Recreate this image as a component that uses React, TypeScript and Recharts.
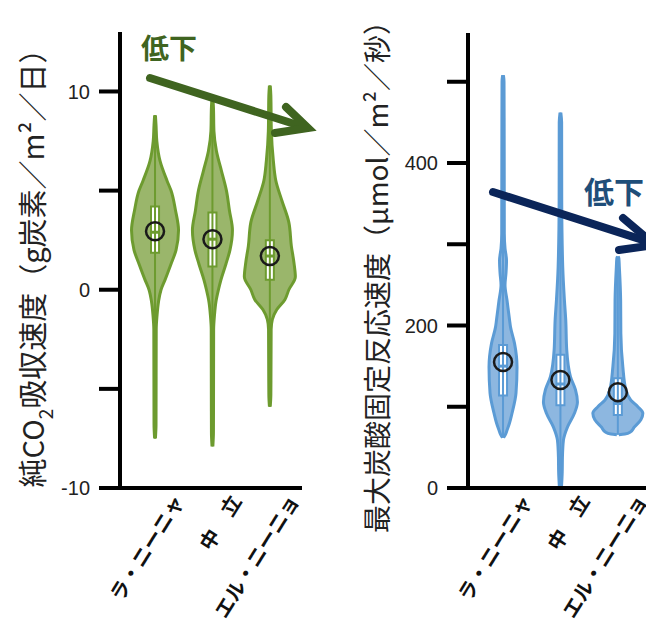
import { Area, ComposedChart, ReferenceArea, ReferenceLine, Scatter, XAxis, YAxis } from 'recharts'

const CATEGORIES = ['ラ・ニーニャ', '中　立', 'エル・ニーニョ']

// 純CO2吸収速度: violin outline as [value, half width (px)]
const co2LaNina = [
  [-7.5, 0.4], [-6.8, 1], [-2, 1.2], [-1.3, 2], [-0.6, 3.5], [0, 6], [0.5, 10], [1.3, 16], [2, 21],
  [3, 23.5], [4, 20.5], [5, 16], [5.5, 12], [6.5, 5], [7.5, 1.8], [8.3, 1], [8.8, 0.4],
]
const co2Neutral = [
  [-7.9, 0.4], [-7.2, 1], [-2, 1.2], [-1.3, 2], [-0.6, 3.5], [0, 6], [0.5, 8.5], [1.3, 13.5], [2, 17.5],
  [3, 20], [4, 17], [5, 14], [6, 9], [7, 4], [8, 1.5], [9.2, 1], [9.7, 0.4],
]
const co2ElNino = [
  [-5.9, 0.4], [-5.3, 1], [-2, 1.3], [-1.5, 2.5], [-1, 7], [-0.5, 15], [0, 19], [0.65, 25.5], [1.4, 24],
  [2.2, 21.5], [3.4, 19], [4.5, 12], [5.5, 6], [6.5, 3.5], [8, 1.5], [9.8, 1], [10.3, 0.4],
]
const co2Mean = [2.95, 2.55, 1.7]
const co2Median = [2.9, 2.55, 1.7]
const co2Q1 = [1.86, 1.17, 0.5]
const co2Q3 = [4.2, 3.9, 2.5]
const co2Ticks = [-10, -5, 0, 5, 10]

// 最大炭酸固定反応速度
const vcLaNina = [
  [62, 0.5], [66, 2.5], [71, 4], [80, 6.5], [92, 9], [117, 13], [149, 14], [178, 11.5], [198, 7.5],
  [207, 6.5], [231, 4], [250, 2], [265, 3], [280, 3.5], [295, 2], [313, 1.3], [400, 1.2], [500, 1], [508, 0.4],
]
const vcNeutral = [
  [0, 1], [20, 1.8], [38, 2], [59, 3], [75, 7], [92, 14], [106, 17], [121, 15], [137, 10], [170, 6.3],
  [207, 5.3], [231, 4], [272, 2.3], [354, 1.3], [450, 1.2], [462, 0.4],
]
const vcElNino = [
  [65.5, 1], [66.5, 7], [69, 12.5], [75, 16.5], [84, 23], [92, 25], [100, 20], [108, 13], [121, 8],
  [149, 5], [190, 3], [231, 2.8], [272, 1.5], [283, 1], [285, 0.3],
]
const vcMean = [155, 133, 118]
const vcMedian = [150, 128, 104]
const vcQ1 = [114, 102, 90]
const vcQ3 = [176, 164, 135]
const vcTicks = [0, 100, 200, 300, 400, 500]

const X_DOMAIN = [-0.61, 2.56]
const PX_PER_CAT = 57.4
const BOX_HALF = 0.07

function violinRows(violins: number[][][]) {
  const levels = [...new Set(violins.flatMap((pts) => pts.map((p) => p[0])))].sort((a, b) => a - b)
  return levels.map((v) => {
    const row: Record<string, unknown> = { v }
    violins.forEach((pts, i) => {
      const hit = pts.find((p) => p[0] === v)
      row['k' + i] = hit ? [i - hit[1] / PX_PER_CAT, i + hit[1] / PX_PER_CAT] : [null, null]
    })
    return row
  })
}

function CategoryTick({ x, y, payload }: any) {
  const ax = x + 30
  const ay = y + 13
  return (
    <text
      x={ax}
      y={ay}
      transform={`rotate(-58, ${ax}, ${ay})`}
      textAnchor="end"
      fontSize={20}
      fontWeight="bold"
      fontFamily="'Noto Sans CJK JP', sans-serif"
      fill="#111"
    >
      {CATEGORIES[payload.value]}
    </text>
  )
}

function ViolinPanel({ yWidth, top, violins, mean, median, q1, q3, domain, ticks, labelStep, fill, stroke }: any) {
  const rows = violinRows(violins)
  const means = mean.map((m: number, i: number) => ({ x: i, v: m }))
  return (
    <ComposedChart
      layout="vertical"
      width={330}
      height={625}
      data={rows}
      margin={{ top, right: 330 - yWidth - 182, bottom: 0, left: 0 }}
    >
      <XAxis
        type="number"
        dataKey="x"
        domain={X_DOMAIN}
        allowDataOverflow
        ticks={[0, 1, 2]}
        interval={0}
        height={137}
        tickSize={0}
        tickMargin={0}
        tickLine={false}
        axisLine={{ stroke: '#000', strokeWidth: 4 }}
        tick={<CategoryTick />}
      />
      <YAxis
        type="number"
        dataKey="v"
        reversed
        domain={domain}
        allowDataOverflow
        ticks={ticks}
        interval={0}
        width={yWidth}
        tickSize={21}
        tickMargin={9}
        axisLine={{ stroke: '#000', strokeWidth: 4 }}
        tickLine={{ stroke: '#000', strokeWidth: 4 }}
        tick={{ fill: '#222', fontSize: 20, fontFamily: "'Liberation Sans', Arial, sans-serif" }}
        tickFormatter={(t: number) => (t % labelStep === 0 ? String(t) : '')}
      />
      {violins.map((_: unknown, i: number) => (
        <Area
          key={'a' + i}
          dataKey={'k' + i}
          type="monotone"
          connectNulls
          fill={fill}
          fillOpacity={1}
          stroke={stroke}
          strokeWidth={3}
          dot={false}
          activeDot={false}
          isAnimationActive={false}
        />
      ))}
      {violins.map((pts: number[][], i: number) => (
        <ReferenceLine
          key={'c' + i}
          segment={[{ x: i, y: pts[0][0] }, { x: i, y: pts[pts.length - 1][0] }]}
          stroke={stroke}
          strokeWidth={2}
        />
      ))}
      {q1.map((lo: number, i: number) => (
        <ReferenceArea
          key={'b' + i}
          x1={i - BOX_HALF}
          x2={i + BOX_HALF}
          y1={lo}
          y2={q3[i]}
          fill="#fff"
          fillOpacity={1}
          stroke={stroke}
          strokeWidth={2}
        />
      ))}
      {median.map((m: number, i: number) => (
        <ReferenceLine
          key={'m' + i}
          segment={[{ x: i - BOX_HALF, y: m }, { x: i + BOX_HALF, y: m }]}
          stroke={stroke}
          strokeWidth={3}
        />
      ))}
      <Scatter
        data={means}
        dataKey="v"
        isAnimationActive={false}
        shape={(p: any) => <circle cx={p.cx} cy={p.cy} r={9} fill="none" stroke="#1a1a1a" strokeWidth={2.5} />}
      />
    </ComposedChart>
  )
}

export default function App() {
  const cjk = "'Noto Sans CJK JP', sans-serif"
  return (
    <div style={{ position: 'absolute', left: 0, top: 0, width: 646, height: 625, overflow: 'hidden', background: '#fff' }}>
      <div style={{ position: 'absolute', left: 0, top: 0 }}>
        <ViolinPanel
          yWidth={120}
          top={32}
          violins={[co2LaNina, co2Neutral, co2ElNino]}
          mean={co2Mean}
          median={co2Median}
          q1={co2Q1}
          q3={co2Q3}
          domain={[-10, 13]}
          ticks={co2Ticks}
          labelStep={10}
          fill="#9ab66b"
          stroke="#6d9b2f"
        />
      </div>
      <div style={{ position: 'absolute', left: 330, top: 0 }}>
        <ViolinPanel
          yWidth={138}
          top={33}
          violins={[vcLaNina, vcNeutral, vcElNino]}
          mean={vcMean}
          median={vcMedian}
          q1={vcQ1}
          q3={vcQ3}
          domain={[0, 560]}
          ticks={vcTicks}
          labelStep={200}
          fill="#8db7e0"
          stroke="#5b9bd5"
        />
      </div>
      <svg width={646} height={625} style={{ position: 'absolute', left: 0, top: 0, pointerEvents: 'none' }}>
        <text x={31} y={261} transform="rotate(-90, 31, 261)" textAnchor="middle" dominantBaseline="central" fontSize={29} fontFamily={cjk} fill="#222">
          <tspan>純CO</tspan>
          <tspan fontSize={19} baselineShift="sub">2</tspan>
          <tspan>吸収速度（g炭素／m²／日）</tspan>
        </text>
        <text x={376} y={270} transform="rotate(-90, 376, 270)" textAnchor="middle" dominantBaseline="central" fontSize={28} fontFamily={cjk} fill="#222">
          最大炭酸固定反応速度（μmol／m²／秒）
        </text>
        <text x={141} y={59} fontSize={28} fontWeight="bold" fontFamily={cjk} fill="#3f6420">低下</text>
        <g stroke="#3f6420" strokeWidth={8} fill="none" strokeLinecap="round" strokeLinejoin="miter">
          <line x1={150} y1={78} x2={304} y2={127} />
          <polyline points="286,107 308,128 275,133" />
        </g>
        <text x={584} y={203} fontSize={30} fontWeight="bold" fontFamily={cjk} fill="#1f4e79">低下</text>
        <g stroke="#0b2559" strokeWidth={8} fill="none" strokeLinecap="round" strokeLinejoin="miter">
          <line x1={493} y1={192} x2={652} y2={243} />
          <polyline points="623,218 655,245 619,250" />
        </g>
      </svg>
    </div>
  )
}
